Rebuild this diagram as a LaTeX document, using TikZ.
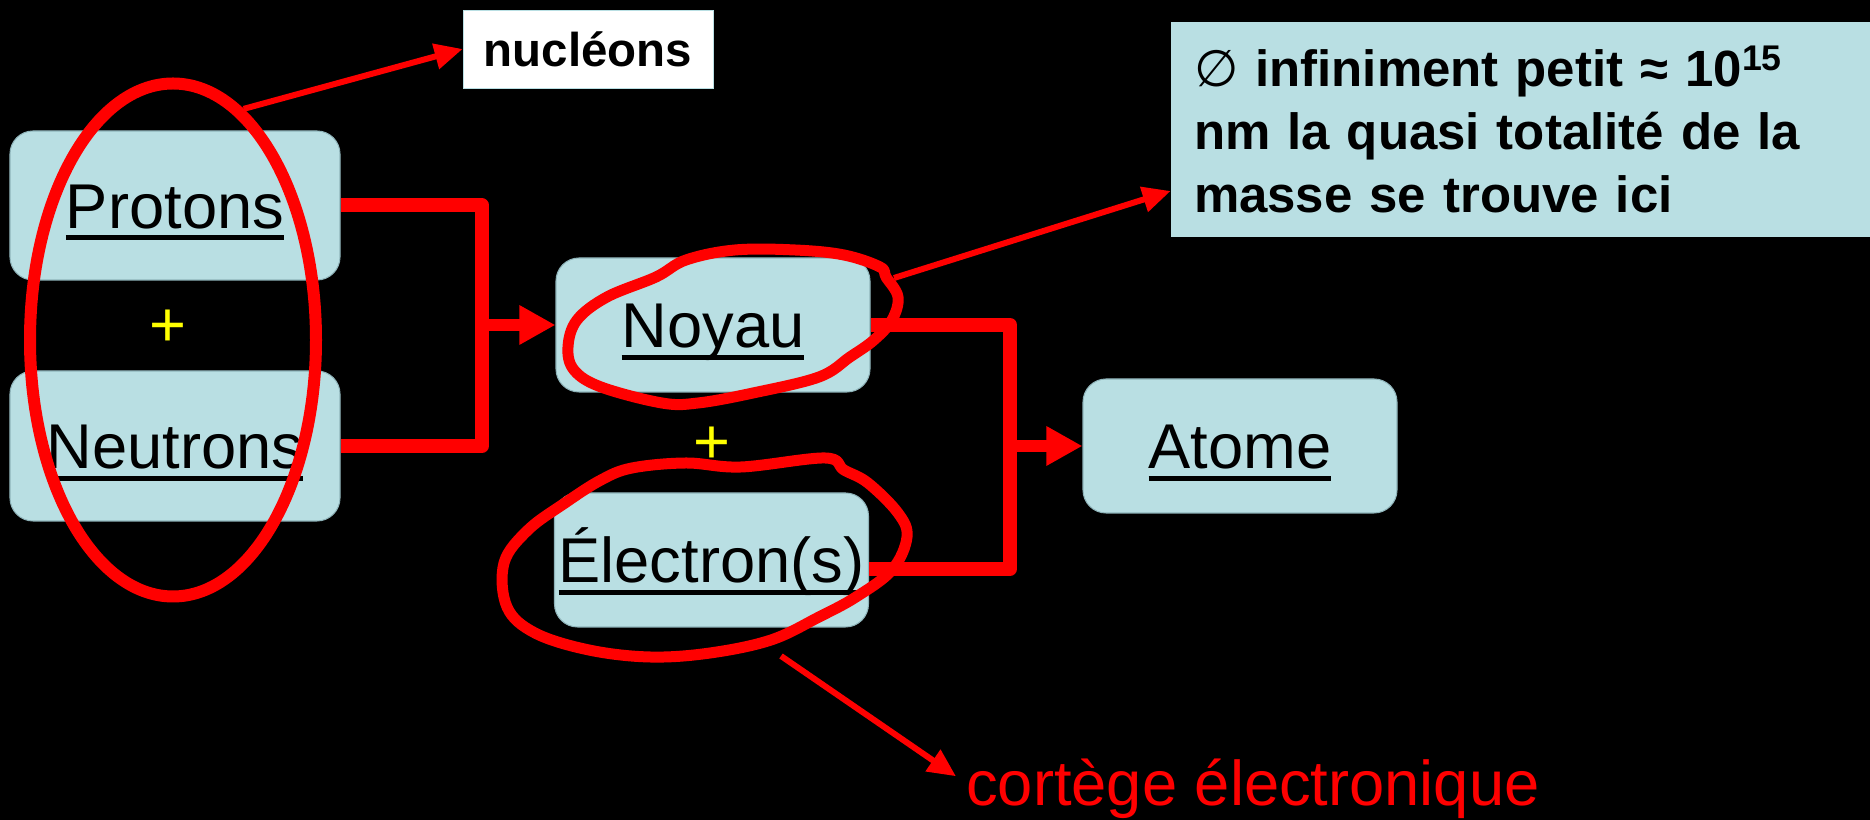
\documentclass[tikz,border=0pt]{standalone}
\usepackage{fontspec}
\setmainfont{Liberation Sans}
\newfontfamily\symbfont{DejaVu Sans}
\usetikzlibrary{arrows.meta, positioning, shapes.geometric}
\definecolor{BoxBlue}{HTML}{B9DFE3}
\definecolor{EdgeBlue}{HTML}{8FB4BA}
\definecolor{MarkRed}{HTML}{FF0000}
\definecolor{PlusYellow}{HTML}{FFFF00}
\newcommand{\souligne}[1]{\setbox0=\hbox{#1}\rlap{\smash{\rule[-0.19em]{\wd0}{0.08em}}}\box0}

\begin{document}
\begin{tikzpicture}[
    >=Triangle, font={\fontsize{36}{43}\selectfont},
    entity/.style={draw=EdgeBlue, fill=BoxBlue, rounded corners=0.46cm, line width=0.6pt,
                   minimum width=6.28cm, minimum height=2.68cm, inner sep=0pt,
                   text height=26pt, text depth=0pt},
    note/.style={fill=BoxBlue, align=left, inner xsep=0.46cm, inner ysep=0pt,
                 minimum width=14.08cm, minimum height=4.3cm, text width=13.16cm,
                 font={\fontsize{29}{35.8}\selectfont\bfseries}},
    bracket/.style={MarkRed, line width=0.28cm, line join=round},
    feed/.style={-{Triangle[length=0.72cm, width=0.74cm]}, MarkRed, line width=0.24cm},
    link/.style={-{Triangle[length=0.56cm, width=0.5cm]}, MarkRed, line width=0.12cm},
    ring/.style={MarkRed, line width=0.22cm, line join=round},
  ]
    \useasboundingbox (0,0) rectangle (37.4,16.4);
    \fill[black] (0,0) rectangle (37.4,16.4);
    % ---- constituants ----
    \node[entity, minimum width=6.6cm, minimum height=2.98cm] (protons)  at (3.5,12.29) {\souligne{Protons}};
    \node[entity, minimum width=6.6cm, minimum height=3.0cm]  (neutrons) at (3.5,7.48)  {\souligne{Neutrons}};
    \node[entity] (noyau)    at (14.26,9.9)  {\souligne{Noyau}};
    \node[entity] (electron) at (14.23,5.2)  {\souligne{Électron(s)}};
    \node[entity] (atome)    at (24.8,7.48)  {\souligne{Atome}};
    \node[text=PlusYellow] (plus1) at (3.36,9.84)  {+};
    \node[text=PlusYellow] (plus2) at (14.24,7.5) {+};
    % ---- étiquettes ----
    \node[draw=BoxBlue, fill=white, minimum width=5cm, minimum height=1.56cm,
          font={\fontsize{27}{32}\selectfont\bfseries}] (nucleons) at (11.76,15.42) {nucléons};
    \node[note] (info) at (30.46,13.81)
      {{\symbfont\mdseries ∅} infiniment petit ≈ 10\textsuperscript{15}\\nm la quasi totalité de la\\masse se trouve ici};
    \node[anchor=base west, inner sep=0pt, text=MarkRed] (cortege) at (19.32,0.28) {cortège électronique};
    % ---- assemblage ----
    \coordinate (j1) at (9.64,9.9);
    \coordinate (j2) at (20.2,7.48);
    \draw[bracket] (protons.east) -| (j1) |- (neutrons.east);
    \draw[feed] (j1) -- (noyau.west);
    \draw[bracket] (noyau.east) -| (j2) |- ([yshift=-0.18cm]electron.east);
    \draw[feed] (j2) -- (atome.west);
    % ---- entourages ----
    \node[ellipse, draw=MarkRed, line width=0.24cm, minimum width=5.72cm, minimum height=10.26cm,
          inner sep=0pt] (nucl) at (3.46,9.6) {};
    \draw[ring] plot[smooth cycle, tension=0.6] coordinates {
      (17.6,11.06) (16.88,11.3) (15.9,11.4) (14.7,11.4) (13.72,11.2) (13.12,10.86)
      (12.14,10.46) (11.54,10.0) (11.36,9.46) (11.48,9.0) (12.02,8.66) (13.24,8.34)
      (13.96,8.34) (15.06,8.54) (16.38,8.86) (17.0,9.26) (17.48,9.6) (17.84,10.0)
      (17.96,10.46) (17.72,10.86)};
    \draw[ring] plot[smooth cycle, tension=0.6] coordinates {
      (16.5,7.24) (14.82,7.06) (13.72,7.14) (12.64,7.04) (12.02,6.8) (11.3,6.34)
      (10.56,5.8) (10.08,5.14) (10.14,4.26) (10.7,3.74) (11.78,3.4) (13.0,3.26)
      (14.2,3.34) (15.42,3.6) (16.38,4.06) (17.12,4.46) (17.84,5.0) (18.14,5.66)
      (17.96,6.14) (17.36,6.74) (16.88,7.0)};
    \coordinate (nloop) at (17.88,10.84);
    \coordinate (eloop) at (15.62,3.28);
    % ---- renvois ----
    \draw[link] (nucl.73) -- (nucleons.west);
    \draw[link] (nloop) -- ([yshift=-1.23cm]info.west);
    \draw[link] (eloop) -- ([xshift=-0.2cm, yshift=0.26cm]cortege.west);
  \end{tikzpicture}
\end{document}
